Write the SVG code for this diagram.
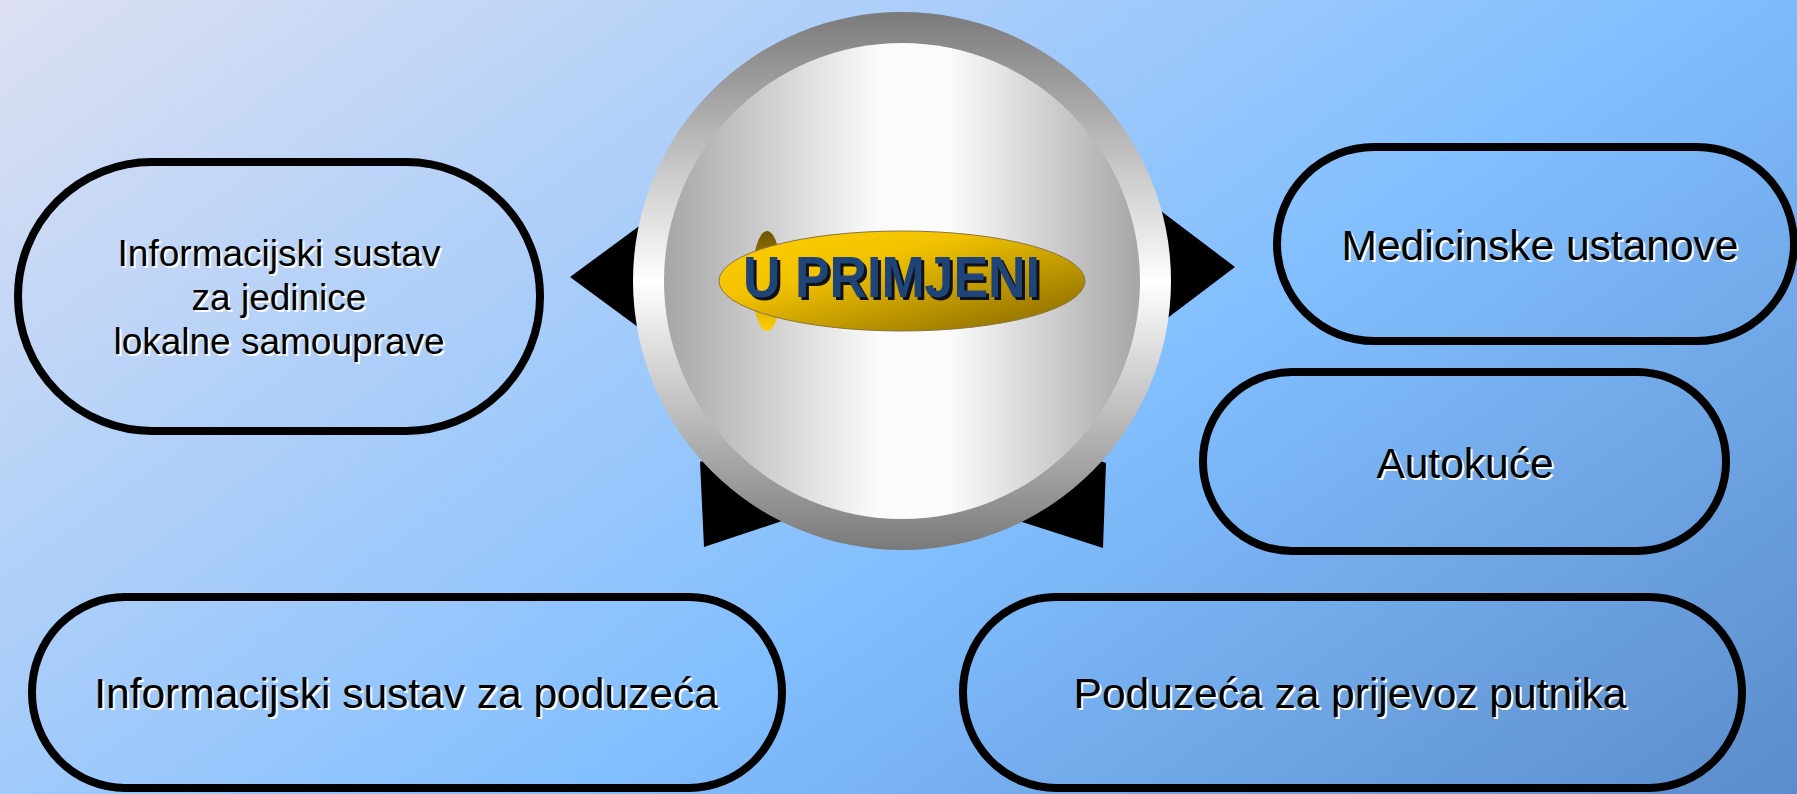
<svg xmlns="http://www.w3.org/2000/svg" width="1797" height="794" viewBox="0 0 1797 794">
<defs>
<linearGradient id="bg" gradientUnits="userSpaceOnUse" x1="0" y1="0" x2="983" y2="1376">
<stop offset="0" stop-color="#dde0f2"/>
<stop offset="0.58" stop-color="#82bfff"/>
<stop offset="1" stop-color="#5b8ccb"/>
</linearGradient>
<linearGradient id="ring" x1="0" y1="0" x2="0" y2="1">
<stop offset="0" stop-color="#7a7a7a"/>
<stop offset="0.5" stop-color="#ffffff"/>
<stop offset="1" stop-color="#7a7a7a"/>
</linearGradient>
<linearGradient id="disc" x1="0" y1="0" x2="1" y2="0">
<stop offset="0" stop-color="#a6a6a6"/>
<stop offset="0.45" stop-color="#fbfbfb"/>
<stop offset="0.6" stop-color="#fbfbfb"/>
<stop offset="1" stop-color="#a6a6a6"/>
</linearGradient>
<linearGradient id="gold" x1="0" y1="0" x2="1" y2="1">
<stop offset="0" stop-color="#ffd000"/>
<stop offset="0.35" stop-color="#f2c200"/>
<stop offset="1" stop-color="#806400"/>
</linearGradient>
<linearGradient id="goldBack" x1="0" y1="0" x2="0" y2="1">
<stop offset="0" stop-color="#6e5400"/>
<stop offset="1" stop-color="#ffd000"/>
</linearGradient>
</defs>
<style>
.pill{fill:none;stroke:#000;stroke-width:8}
.lbl{font-family:"Liberation Sans",Arial,sans-serif;text-anchor:middle;fill:#000}
.sh{fill:#fff}
.arrow{fill:#000}
.title{font-family:"Liberation Sans",Arial,sans-serif;font-weight:bold;font-size:57px}
</style>
<rect x="0" y="0" width="1797" height="794" fill="url(#bg)"/>

<g id="connectors">
<polygon class="arrow" points="570,277 680,196 680,358"/>
<polygon class="arrow" points="1235,267 1120,180 1120,354"/>
<polygon class="arrow" points="700,462 704,547 800,515 760,440"/>
<polygon class="arrow" points="1106,463 1103,548 1004,516 1040,440"/>
</g>

<g id="center">
<circle cx="902" cy="281" r="269" fill="url(#ring)"/>
<circle cx="902" cy="281" r="238" fill="url(#disc)"/>
<ellipse cx="767" cy="281" rx="15" ry="50" fill="url(#goldBack)"/>
<ellipse cx="902" cy="281" rx="183" ry="50" fill="url(#gold)" stroke="#8a7440" stroke-width="1"/>
<text class="title" x="746" y="300" fill="#111" textLength="297" lengthAdjust="spacingAndGlyphs">U PRIMJENI</text>
<text class="title" x="743" y="297" fill="#1f4477" textLength="297" lengthAdjust="spacingAndGlyphs">U PRIMJENI</text>
</g>

<g id="node-lokalna">
<rect class="pill" x="18" y="162" width="522" height="269" rx="134" ry="134"/>
<g class="lbl" font-size="37">
<text class="sh" x="281" y="268">Informacijski sustav</text>
<text class="sh" x="281" y="312">za jedinice</text>
<text class="sh" x="281" y="356">lokalne samouprave</text>
<text x="279" y="266">Informacijski sustav</text>
<text x="279" y="310">za jedinice</text>
<text x="279" y="354">lokalne samouprave</text>
</g>
</g>

<g id="node-medicinske">
<rect class="pill" x="1277" y="147" width="517" height="194" rx="97" ry="97"/>
<g class="lbl" font-size="42.5">
<text class="sh" x="1542" y="262">Medicinske ustanove</text>
<text x="1540" y="260">Medicinske ustanove</text>
</g>
</g>

<g id="node-autokuce">
<rect class="pill" x="1203" y="372" width="523" height="179" rx="89" ry="89"/>
<g class="lbl" font-size="42.5">
<text class="sh" x="1467" y="480">Autokuće</text>
<text x="1465" y="478">Autokuće</text>
</g>
</g>

<g id="node-poduzeca">
<rect class="pill" x="32" y="597" width="750" height="191" rx="93" ry="95"/>
<g class="lbl" font-size="42.5">
<text class="sh" x="408" y="710">Informacijski sustav za poduzeća</text>
<text x="406" y="708">Informacijski sustav za poduzeća</text>
</g>
</g>

<g id="node-prijevoz">
<rect class="pill" x="963" y="597" width="779" height="191" rx="93" ry="95"/>
<g class="lbl" font-size="42.5">
<text class="sh" x="1352" y="710">Poduzeća za prijevoz putnika</text>
<text x="1350" y="708">Poduzeća za prijevoz putnika</text>
</g>
</g>
</svg>
